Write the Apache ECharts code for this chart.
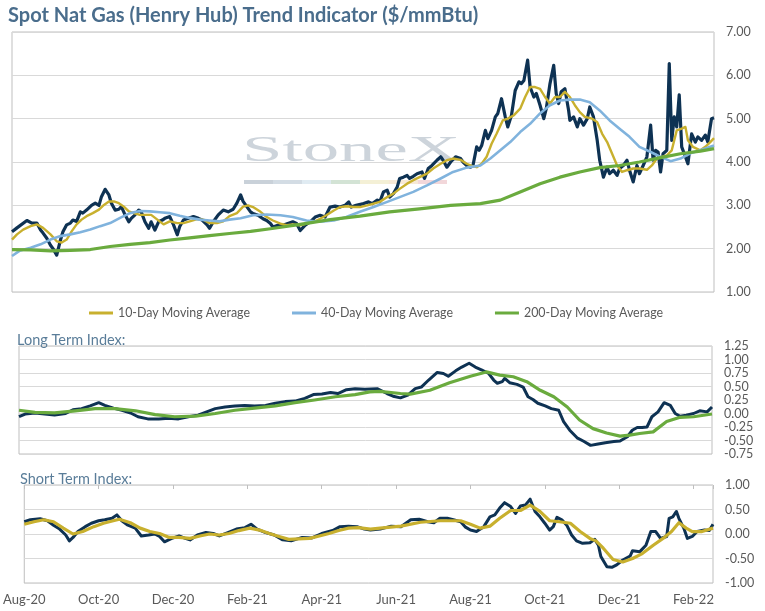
<!DOCTYPE html>
<html>
<head>
<meta charset="utf-8">
<script src="https://cdn.jsdelivr.net/npm/echarts@6/dist/echarts.min.js"></script>
<style>
html, body { margin: 0; padding: 0; background: #fff; }
#main { width: 765px; height: 611px; }
</style>
</head>
<body>
<div id="main"></div>
<script>
var myChart = echarts.init(document.getElementById('main'));

// x values are days counted from 1 Aug 2020
var monthLabels = ['Aug-20', 'Oct-20', 'Dec-20', 'Feb-21', 'Apr-21', 'Jun-21', 'Aug-21', 'Oct-21', 'Dec-21', 'Feb-22'];

var spot = [
[0,2.39],[4,2.48],[12,2.65],[16,2.59],[20,2.59],[23,2.43],[25,2.36],[28,2.24],[31,2.08],[33,2.0],
[36,1.85],[39,2.2],[41,2.39],[44,2.55],[47,2.59],[49,2.66],[52,2.63],[55,2.85],[57,2.82],[60,2.89],
[64,3.0],[67,3.05],[70,3.0],[72,3.2],[75,3.37],[78,3.24],[80,3.05],[83,2.89],[86,2.91],[88,2.97],
[91,2.78],[94,2.62],[96,2.70],[99,2.78],[102,2.89],[104,2.85],[107,2.62],[110,2.47],[112,2.62],[115,2.43],
[118,2.62],[121,2.66],[123,2.70],[127,2.74],[130,2.55],[133,2.32],[135,2.51],[138,2.66],[142,2.70],[146,2.74],
[150,2.70],[153,2.66],[157,2.55],[159,2.47],[162,2.62],[166,2.78],[170,2.89],[174,2.85],[178,2.91],[181,3.05],
[184,3.24],[186,3.09],[189,2.97],[192,2.85],[194,2.81],[198,2.77],[202,2.69],[205,2.65],[208,2.58],[210,2.5],
[214,2.54],[218,2.54],[222,2.58],[226,2.62],[229,2.58],[232,2.42],[236,2.54],[240,2.62],[244,2.73],[248,2.77],
[252,2.73],[256,2.96],[260,2.98],[264,2.96],[268,3.0],[271,3.08],[273,2.96],[277,3.0],[283,3.04],[287,3.08],
[290,3.04],[294,3.12],[296,3.08],[299,3.31],[302,3.35],[304,3.19],[307,3.27],[310,3.42],[312,3.62],[315,3.65],
[318,3.69],[320,3.62],[323,3.67],[326,3.73],[330,3.77],[332,3.62],[335,3.85],[338,3.92],[342,4.04],[345,4.12],
[347,4.04],[350,3.88],[353,4.0],[357,4.12],[361,4.08],[363,4.0],[366,3.92],[369,3.88],[371,3.92],[374,4.35],
[376,4.27],[378,4.38],[381,4.73],[383,4.54],[386,4.73],[389,5.04],[391,5.12],[394,5.46],[397,5.04],[399,4.81],
[402,5.08],[405,5.65],[408,5.85],[410,5.81],[412,5.88],[415,6.35],[417,5.73],[420,5.5],[422,5.58],[425,5.31],
[428,5.0],[430,5.23],[433,5.81],[436,6.23],[438,5.58],[440,5.35],[442,5.62],[445,5.69],[448,5.19],[449,4.96],
[452,5.04],[455,4.81],[457,5.0],[460,4.85],[463,5.0],[465,5.27],[468,5.04],[471,4.5],[473,4.04],[476,3.65],
[479,3.88],[481,3.73],[484,3.81],[487,3.69],[489,3.85],[492,3.92],[495,4.04],[497,3.81],[500,3.54],[503,3.92],
[505,3.73],[508,3.92],[511,4.12],[514,4.85],[516,4.04],[518,4.27],[520,4.23],[522,3.77],[524,4.19],[527,4.27],
[529,6.27],[531,4.5],[533,5.04],[535,4.81],[537,5.55],[539,4.35],[542,4.12],[544,3.96],[547,4.65],[550,4.46],
[552,4.58],[555,4.5],[558,4.62],[560,4.46],[563,5.0],[565,5.02]
];

var ma10 = [
[0,2.21],[4,2.33],[9,2.44],[15,2.52],[20,2.56],[25,2.48],[31,2.33],[36,2.17],[40,2.14],[44,2.21],
[48,2.40],[52,2.56],[56,2.67],[60,2.75],[65,2.82],[70,2.90],[74,3.01],[78,3.09],[82,3.09],[86,3.05],
[90,2.97],[94,2.86],[98,2.82],[103,2.78],[108,2.78],[112,2.78],[117,2.67],[122,2.56],[127,2.63],[133,2.59],
[138,2.59],[143,2.63],[149,2.68],[154,2.67],[159,2.59],[165,2.59],[170,2.63],[175,2.75],[181,2.82],[186,2.97],
[190,3.00],[194,2.96],[200,2.85],[205,2.73],[210,2.65],[216,2.58],[221,2.54],[226,2.56],[232,2.54],[237,2.58],
[243,2.62],[248,2.69],[253,2.77],[259,2.88],[264,2.96],[269,2.98],[275,2.96],[280,2.96],[286,3.00],[291,3.04],
[296,3.08],[302,3.19],[307,3.27],[312,3.38],[318,3.50],[323,3.58],[328,3.65],[334,3.73],[339,3.85],[345,3.96],
[350,4.04],[355,4.08],[361,4.05],[366,3.96],[371,3.90],[374,3.88],[378,3.96],[382,4.12],[386,4.42],[390,4.65],
[395,4.96],[399,5.00],[404,5.08],[409,5.23],[413,5.50],[417,5.73],[421,5.73],[425,5.69],[429,5.50],[433,5.35],
[437,5.50],[441,5.50],[445,5.62],[449,5.50],[453,5.31],[457,5.15],[461,5.04],[467,5.00],[471,4.92],[475,4.65],
[479,4.46],[483,4.19],[487,3.92],[491,3.77],[495,3.81],[500,3.85],[505,3.85],[511,3.82],[515,3.92],[519,4.08],
[523,4.12],[527,4.15],[531,4.27],[535,4.73],[539,4.77],[542,4.81],[544,4.50],[548,4.35],[554,4.27],[558,4.35],
[562,4.46],[565,4.55]
];

var ma40 = [
[0,1.83],[6,1.95],[15,2.02],[23,2.10],[31,2.21],[39,2.29],[47,2.33],[55,2.38],[63,2.44],[71,2.52],
[79,2.59],[87,2.71],[95,2.82],[103,2.87],[111,2.86],[119,2.84],[127,2.82],[135,2.76],[143,2.71],[151,2.67],
[159,2.65],[167,2.63],[175,2.67],[184,2.70],[194,2.77],[205,2.79],[216,2.77],[226,2.73],[237,2.65],[248,2.62],
[259,2.65],[269,2.73],[280,2.85],[291,2.96],[302,3.08],[312,3.19],[323,3.31],[334,3.46],[345,3.62],[355,3.77],
[366,3.87],[377,3.92],[385,4.08],[393,4.27],[401,4.46],[409,4.69],[417,4.88],[425,5.12],[433,5.31],[441,5.42],
[449,5.44],[457,5.44],[465,5.38],[473,5.19],[481,4.96],[489,4.77],[497,4.58],[505,4.35],[514,4.23],[522,4.12],
[530,4.02],[538,4.08],[546,4.20],[554,4.27],[562,4.35],[565,4.38]
];

var ma200 = [
[0,1.98],[15,1.97],[31,1.95],[47,1.96],[63,1.98],[79,2.05],[95,2.10],[111,2.14],[127,2.20],[143,2.25],
[159,2.30],[175,2.35],[192,2.40],[208,2.46],[232,2.56],[256,2.67],[280,2.75],[304,2.85],[328,2.92],[353,3.0],
[377,3.04],[393,3.12],[409,3.31],[425,3.50],[441,3.65],[457,3.77],[473,3.87],[489,3.92],[505,4.0],[522,4.10],
[538,4.19],[554,4.25],[565,4.31]
];

var longIdx = [
[0,-0.06],[5,-0.01],[13,0.01],[21,-0.01],[29,-0.03],[38,0.0],[44,0.07],[51,0.09],[58,0.14],[65,0.20],
[70,0.15],[77,0.10],[84,0.06],[91,0.01],[97,-0.06],[105,-0.10],[114,-0.10],[122,-0.09],[130,-0.10],[138,-0.06],
[146,-0.03],[153,0.03],[160,0.09],[168,0.12],[176,0.14],[184,0.15],[192,0.14],[201,0.15],[209,0.19],[217,0.22],
[225,0.23],[233,0.28],[240,0.35],[247,0.36],[254,0.39],[260,0.37],[267,0.44],[274,0.46],[282,0.45],[292,0.46],
[300,0.37],[305,0.32],[311,0.29],[317,0.34],[323,0.46],[328,0.49],[334,0.62],[341,0.76],[346,0.74],[350,0.69],
[356,0.79],[361,0.86],[367,0.93],[372,0.86],[377,0.81],[383,0.74],[387,0.62],[390,0.56],[394,0.59],[396,0.65],
[400,0.57],[406,0.54],[411,0.49],[415,0.31],[419,0.26],[423,0.19],[429,0.14],[434,0.09],[440,0.06],[444,-0.15],
[449,-0.31],[455,-0.45],[460,-0.51],[466,-0.59],[471,-0.57],[478,-0.54],[485,-0.52],[490,-0.51],[496,-0.43],[500,-0.31],
[504,-0.26],[508,-0.26],[512,-0.25],[516,-0.06],[521,0.03],[526,0.20],[531,0.15],[535,0.0],[539,-0.05],[544,-0.03],
[550,0.0],[555,0.05],[561,0.03],[565,0.12]
];

var longSignal = [
[0,0.06],[13,0.02],[29,0.01],[46,0.05],[62,0.09],[78,0.09],[95,0.05],[111,-0.02],[127,-0.06],[144,-0.05],
[160,0.0],[176,0.06],[192,0.10],[209,0.14],[225,0.20],[241,0.25],[258,0.31],[274,0.35],[286,0.40],[294,0.41],
[311,0.37],[319,0.36],[335,0.43],[351,0.57],[368,0.69],[381,0.77],[392,0.71],[403,0.68],[414,0.59],[425,0.43],
[436,0.31],[447,0.12],[457,-0.12],[468,-0.28],[479,-0.36],[490,-0.42],[498,-0.40],[506,-0.37],[517,-0.34],[528,-0.15],
[539,-0.07],[550,-0.06],[565,-0.01]
];

var shortIdx = [
[0,0.25],[5,0.29],[13,0.31],[19,0.27],[24,0.18],[29,0.10],[34,-0.02],[37,-0.14],[40,-0.07],[44,0.05],
[50,0.15],[55,0.22],[61,0.27],[66,0.29],[72,0.32],[76,0.39],[80,0.27],[85,0.18],[91,0.12],[96,-0.04],
[102,-0.02],[107,0.0],[111,-0.05],[115,-0.16],[121,-0.09],[127,-0.04],[132,-0.09],[136,-0.12],[142,-0.02],[149,0.03],
[155,0.01],[160,-0.04],[167,0.03],[174,0.10],[181,0.13],[186,0.20],[191,0.10],[198,0.03],[205,-0.02],[212,-0.12],
[219,-0.14],[228,-0.07],[236,-0.08],[244,0.01],[253,0.07],[259,0.15],[266,0.16],[273,0.15],[279,0.10],[284,0.08],
[292,0.10],[301,0.16],[309,0.15],[317,0.29],[324,0.30],[331,0.25],[336,0.23],[341,0.32],[347,0.32],[352,0.29],
[358,0.25],[362,0.14],[366,0.08],[371,0.05],[377,0.15],[382,0.35],[386,0.39],[390,0.53],[394,0.64],[399,0.56],
[403,0.42],[407,0.57],[411,0.59],[415,0.71],[419,0.46],[423,0.35],[427,0.22],[431,0.08],[434,0.15],[437,0.34],
[441,0.29],[445,0.18],[449,-0.02],[453,-0.14],[458,-0.19],[464,-0.18],[468,-0.11],[471,-0.23],[473,-0.46],[478,-0.67],
[482,-0.68],[486,-0.63],[491,-0.53],[497,-0.45],[499,-0.34],[505,-0.36],[510,-0.23],[514,0.05],[518,0.05],[522,-0.09],
[527,-0.05],[529,0.32],[532,0.35],[535,0.46],[537,0.32],[541,0.12],[544,-0.09],[548,-0.05],[552,0.05],[558,0.08],
[562,0.07],[565,0.20]
];

var shortSignal = [
[0,0.20],[8,0.25],[16,0.29],[24,0.25],[32,0.12],[40,0.0],[48,0.05],[57,0.15],[65,0.22],[73,0.27],
[78,0.30],[87,0.23],[95,0.12],[103,0.05],[111,0.01],[119,-0.07],[127,-0.07],[136,-0.09],[144,-0.04],[152,0.0],
[160,-0.02],[168,0.01],[176,0.07],[185,0.12],[193,0.08],[201,0.01],[209,-0.05],[217,-0.11],[225,-0.10],[234,-0.09],
[242,-0.04],[250,0.01],[258,0.07],[266,0.12],[274,0.13],[284,0.10],[292,0.12],[309,0.16],[325,0.24],[341,0.27],
[358,0.27],[366,0.20],[374,0.12],[382,0.16],[390,0.32],[399,0.48],[407,0.48],[415,0.59],[423,0.46],[431,0.27],
[439,0.25],[448,0.22],[456,0.05],[464,-0.09],[469,-0.14],[475,-0.29],[483,-0.52],[491,-0.57],[499,-0.50],[507,-0.40],
[516,-0.23],[524,-0.09],[531,0.05],[537,0.23],[543,0.12],[548,0.05],[556,0.05],[565,0.12]
];

var NAVY = '#0e3253';
var GOLD = '#c8b02e';
var SKY = '#80b3dd';
var GREEN = '#6aab3e';
var FONT = 'Lato, "Open Sans", sans-serif';

var yLabel = {
    color: '#595959',
    fontSize: 12.5,
    fontFamily: FONT,
    margin: 12,
    formatter: function (v) { return v.toFixed(2); }
};
var splitLine = { lineStyle: { color: '#d9d9d9', width: 1 } };

function hiddenX(grid) {
    return { type: 'value', gridIndex: grid, min: 0, max: 565, show: false };
}

function line(name, data, color, width, x, y, z) {
    return {
        name: name,
        type: 'line',
        data: data,
        xAxisIndex: x,
        yAxisIndex: y,
        symbol: 'none',
        z: z,
        lineStyle: { color: color, width: width, join: 'round' },
        itemStyle: { color: color }
    };
}

// faint watermark
var bandColors = ['#c9d1d9', '#d3dce4', '#e0ebf2', '#d3e3d5', '#f4f0d6', '#f7e9d6', '#f2d7da'];
var watermark = [{
    type: 'text',
    x: 242,
    y: 134,
    scaleX: 2.08,
    z: 1,
    silent: true,
    style: {
        text: 'StoneX',
        font: '35px "Liberation Serif", "DejaVu Serif", serif',
        fill: '#cdd4db'
    }
}];
bandColors.forEach(function (c, i) {
    watermark.push({
        type: 'rect',
        z: 1,
        silent: true,
        shape: { x: 244 + i * 29, y: 180, width: 29, height: 4 },
        style: { fill: c }
    });
});

var option = {
    animation: false,
    backgroundColor: '#ffffff',
    title: [
        {
            text: 'Spot Nat Gas (Henry Hub) Trend Indicator ($/mmBtu)',
            left: 3, top: 1,
            textStyle: { color: '#4a6d8c', fontSize: 20, fontWeight: 'bold', fontFamily: FONT }
        },
        {
            text: 'Long Term Index:',
            left: 12, top: 328,
            textStyle: { color: '#5a7d99', fontSize: 14.5, fontWeight: 'normal', fontFamily: FONT }
        },
        {
            text: 'Short Term Index:',
            left: 15, top: 467,
            textStyle: { color: '#5a7d99', fontSize: 14.5, fontWeight: 'normal', fontFamily: FONT }
        }
    ],
    legend: {
        data: ['10-Day Moving Average', '40-Day Moving Average', '200-Day Moving Average'],
        left: 84,
        top: 302,
        icon: 'rect',
        itemWidth: 24,
        itemHeight: 3,
        itemGap: 42,
        textStyle: { color: '#595959', fontSize: 12.4, fontFamily: FONT }
    },
    graphic: watermark,
    grid: [
        { left: 12, top: 32, width: 702, height: 260, show: true, borderColor: '#bfbfbf', borderWidth: 1 },
        { left: 19, top: 346, width: 693, height: 108, show: true, borderColor: '#bfbfbf', borderWidth: 1 },
        { left: 22, top: 485, width: 691, height: 98, show: true, borderColor: '#bfbfbf', borderWidth: 1 }
    ],
    xAxis: [
        hiddenX(0),
        hiddenX(1),
        {
            type: 'value', gridIndex: 2, min: 0, max: 565, interval: 61,
            axisLine: { show: false },
            axisTick: { show: false },
            splitLine: { show: false },
            axisLabel: {
                color: '#595959', fontSize: 13, fontFamily: FONT, margin: 10,
                formatter: function (v) {
                    var i = v / 61;
                    return i === Math.round(i) ? (monthLabels[i] || '') : '';
                }
            }
        },
        {
            type: 'value', gridIndex: 2, min: 0, max: 565, interval: 61, position: 'top',
            axisLine: { show: false },
            axisTick: { show: true, inside: true, length: 4, lineStyle: { color: '#bfbfbf' } },
            axisLabel: { show: false },
            splitLine: { show: false }
        }
    ],
    yAxis: [
        {
            type: 'value', gridIndex: 0, position: 'right', min: 1, max: 7, interval: 1,
            axisLine: { show: false }, axisTick: { show: false },
            axisLabel: yLabel, splitLine: splitLine
        },
        {
            type: 'value', gridIndex: 1, position: 'right', min: -0.75, max: 1.25, interval: 0.25,
            axisLine: { show: false }, axisTick: { show: false },
            axisLabel: yLabel, splitLine: splitLine
        },
        {
            type: 'value', gridIndex: 2, position: 'right', min: -1, max: 1, interval: 0.5,
            axisLine: { show: false }, axisTick: { show: false },
            axisLabel: yLabel, splitLine: splitLine
        }
    ],
    series: [
        line('Spot', spot, NAVY, 3.2, 0, 0, 2),
        line('10-Day Moving Average', ma10, GOLD, 2.4, 0, 0, 3),
        line('40-Day Moving Average', ma40, SKY, 2.6, 0, 0, 3),
        line('200-Day Moving Average', ma200, GREEN, 3.2, 0, 0, 4),
        line('Long Term Index', longIdx, NAVY, 3, 1, 1, 2),
        line('Long Term Signal', longSignal, GREEN, 3.2, 1, 1, 3),
        line('Short Term Index', shortIdx, NAVY, 3, 2, 2, 2),
        line('Short Term Signal', shortSignal, GOLD, 3.2, 2, 2, 3)
    ]
};

myChart.setOption(option);
</script>
</body>
</html>
